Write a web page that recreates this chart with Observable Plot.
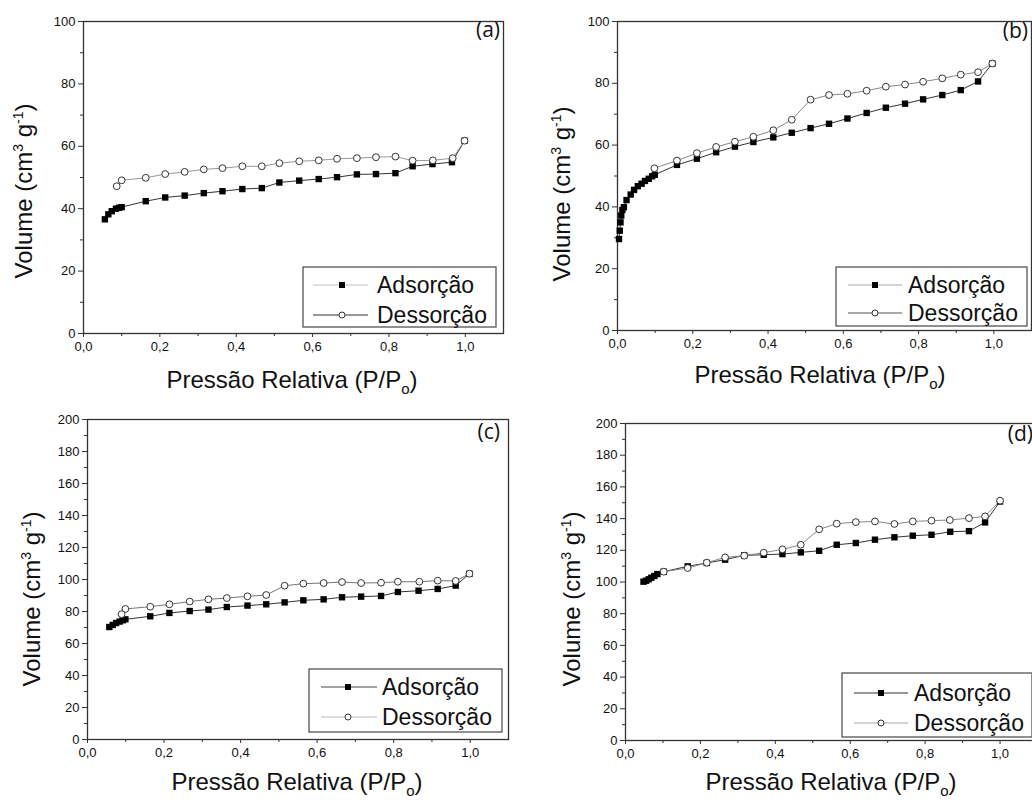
<!DOCTYPE html>
<html><head><meta charset="utf-8">
<script src="https://cdn.jsdelivr.net/npm/d3@7"></script>
<script src="https://cdn.jsdelivr.net/npm/@observablehq/plot@0.6"></script>
<style>
html,body{margin:0;padding:0;background:#fff;overflow:hidden;}
#wrap{position:relative;width:1032px;height:804px;overflow:hidden;background:#fff;}
#wrap svg{position:absolute;}
</style></head><body><div id="wrap"></div>
<script>
// ---------- data ----------
const seriesNames = ["Adsorção", "Dessorção"];
const panelLabels = ["(a)", "(b)", "(c)", "(d)"];
const xTitleMain = "Pressão Relativa (P/P";
const xTitleSub = "o";
const xMajor = [0, 0.2, 0.4, 0.6, 0.8, 1.0];
const xMajorLabels = ["0,0", "0,2", "0,4", "0,6", "0,8", "1,0"];
const xMinor = [0.1, 0.3, 0.5, 0.7, 0.9];
const yMajor100 = [0, 20, 40, 60, 80, 100];
const yMinor100 = [10, 30, 50, 70, 90];
const yMajor200 = [0, 20, 40, 60, 80, 100, 120, 140, 160, 180, 200];
const yMinor200 = [10, 30, 50, 70, 90, 110, 130, 150, 170, 190];

const aAdsX = [0.056,0.065,0.074,0.085,0.093,0.100,0.163,0.214,0.265,0.315,0.364,0.416,0.467,0.513,0.565,0.616,0.664,0.716,0.766,0.817,0.862,0.914,0.965,0.998];
const aAdsY = [36.6,38.2,39.2,40.0,40.3,40.5,42.4,43.6,44.2,45.0,45.6,46.3,46.6,48.4,49.0,49.5,50.1,51.0,51.1,51.4,53.6,54.3,54.9,61.8];
const aDesX = [0.998,0.967,0.915,0.862,0.817,0.766,0.716,0.664,0.616,0.565,0.513,0.467,0.416,0.364,0.315,0.265,0.214,0.163,0.100,0.087];
const aDesY = [61.8,56.2,55.5,55.4,56.7,56.5,56.2,56.0,55.5,55.2,54.6,53.6,53.6,53.0,52.6,51.8,51.1,49.9,49.1,47.2];

const bAdsX = [0.004,0.006,0.008,0.010,0.013,0.017,0.024,0.035,0.044,0.054,0.064,0.073,0.083,0.092,0.099,0.158,0.211,0.262,0.312,0.361,0.414,0.463,0.513,0.562,0.611,0.662,0.713,0.764,0.812,0.863,0.912,0.958,0.996];
const bAdsY = [29.6,32.3,35.0,37.2,39.0,39.9,42.2,44.0,45.5,46.7,47.5,48.4,49.1,49.9,50.4,53.6,55.6,57.7,59.5,61.0,62.5,64.0,65.5,66.9,68.6,70.4,72.1,73.4,74.8,76.2,77.8,80.6,86.4];
const bDesX = [0.996,0.958,0.912,0.863,0.812,0.764,0.713,0.662,0.611,0.562,0.513,0.463,0.414,0.361,0.312,0.262,0.211,0.158,0.098];
const bDesY = [86.4,83.6,82.8,81.6,80.5,79.6,78.9,77.6,76.6,76.2,74.7,68.2,64.8,62.7,61.1,59.4,57.4,55.0,52.5];

const cAdsX = [0.057,0.066,0.075,0.084,0.092,0.099,0.164,0.214,0.267,0.316,0.364,0.418,0.467,0.515,0.564,0.617,0.665,0.715,0.767,0.811,0.865,0.915,0.962,0.998];
const cAdsY = [70.3,71.6,72.8,73.7,74.5,75.1,77.0,79.1,80.3,81.2,82.8,83.7,84.5,85.7,87.0,87.6,88.9,89.3,89.7,92.2,93.0,94.1,96.2,103.6];
const cDesX = [0.998,0.962,0.915,0.867,0.811,0.767,0.715,0.665,0.617,0.564,0.515,0.467,0.418,0.364,0.316,0.267,0.214,0.164,0.099,0.089];
const cDesY = [103.6,99.1,99.3,98.6,98.6,98.0,97.8,98.4,97.8,97.4,96.1,90.3,89.5,88.4,87.6,86.2,84.5,83.0,81.6,78.3];

const dAdsX = [0.048,0.055,0.062,0.069,0.077,0.085,0.102,0.166,0.217,0.266,0.317,0.369,0.419,0.468,0.517,0.564,0.615,0.666,0.718,0.767,0.817,0.867,0.917,0.960,1.0];
const dAdsY = [100.2,100.8,101.7,102.7,103.8,105.0,106.5,109.9,112.0,114.1,116.8,117.2,117.6,118.7,119.7,123.5,124.6,126.7,128.2,129.2,129.8,131.7,132.1,137.6,150.8];
const dDesX = [1.0,0.960,0.917,0.866,0.817,0.767,0.718,0.666,0.615,0.564,0.517,0.468,0.419,0.369,0.317,0.266,0.217,0.166,0.102];
const dDesY = [151.3,141.4,140.3,139.1,138.7,138.2,136.6,138.2,137.8,136.8,133.2,123.5,120.6,118.5,116.6,115.5,112.2,108.8,106.5];

// ---------- layout ----------
const FONT = '"Liberation Sans", Arial, Helvetica, sans-serif';
const panels = [
  {adsX:aAdsX, adsY:aAdsY, desX:aDesX, desY:aDesY, yMax:100, yMajor:yMajor100, yMinor:yMinor100,
   left:0, top:0, w:516, h:400, ml:83, mr:13, mt:21, mb:67,
   adsLine:"#333", desLine:"#999", legAds:"#c4c4c4", legDes:"#333",
   ytx:32, yty:191, xtx:292, xty:388, lbx:500, lby:37,
   leg:{x0:303, x1:496, y0:267, y1:327, l0:313, l1:368, m:342, tx:377, rows:[285,315]}},
  {adsX:bAdsX, adsY:bAdsY, desX:bDesX, desY:bDesY, yMax:100, yMajor:yMajor100, yMinor:yMinor100,
   left:520, top:0, w:512, h:400, ml:97, mr:1, mt:21, mb:70,
   adsLine:"#333", desLine:"#888", legAds:"#aaa", legDes:"#555",
   ytx:50, yty:194, xtx:300, xty:383, lbx:508, lby:38,
   leg:{x0:316, x1:507, y0:267, y1:326, l0:328, l1:382, m:355, tx:388, rows:[285,313]}},
  {adsX:cAdsX, adsY:cAdsY, desX:cDesX, desY:cDesY, yMax:200, yMajor:yMajor200, yMinor:yMinor200,
   left:0, top:400, w:516, h:404, ml:87, mr:8, mt:19, mb:65,
   adsLine:"#333", desLine:"#777", legAds:"#444", legDes:"#bbb",
   ytx:40, yty:199, xtx:297, xty:390, lbx:500, lby:39,
   leg:{x0:309, x1:502, y0:269, y1:332, l0:321, l1:377, m:348, tx:382, rows:[287,317]}},
  {adsX:dAdsX, adsY:dAdsY, desX:dDesX, desY:dDesY, yMax:200, yMajor:yMajor200, yMinor:yMinor200,
   left:520, top:400, w:517, h:404, ml:105, mr:0, mt:23, mb:64,
   adsLine:"#333", desLine:"#888", legAds:"#333", legDes:"#aaa",
   ytx:60, yty:199, xtx:311, xty:390, lbx:513, lby:41,
   leg:{x0:322, x1:512, y0:273, y1:337, l0:334, l1:388, m:361, tx:394, rows:[293,323]}}
];

const wrap = document.getElementById("wrap");

panels.forEach((cfg, k) => {
  const ads = cfg.adsX.map((x, i) => ({x, y: cfg.adsY[i]}));
  const des = cfg.desX.map((x, i) => ({x, y: cfg.desY[i]}));
  const svg = Plot.plot({
    width: cfg.w, height: cfg.h,
    marginLeft: cfg.ml, marginRight: cfg.mr, marginTop: cfg.mt, marginBottom: cfg.mb,
    x: {domain: [0, 1.1]},
    y: {domain: [0, cfg.yMax]},
    style: {fontFamily: FONT, fontSize: "13px", color: "#111", background: "#fff", overflow: "visible"},
    marks: [
      Plot.axisX(xMajor, {tickSize: 4, tickPadding: 4, tickFormat: d => xMajorLabels[xMajor.indexOf(d)], label: null, stroke: "#333"}),
      Plot.axisX(xMinor, {tickSize: 3, tickFormat: () => "", label: null, stroke: "#333"}),
      Plot.axisY(cfg.yMajor, {tickSize: 5, tickPadding: 3, label: null, stroke: "#333"}),
      Plot.axisY(cfg.yMinor, {tickSize: 3, tickFormat: () => "", label: null, stroke: "#333"}),
      Plot.frame({stroke: "#333", strokeWidth: 1.3}),
      Plot.line(ads, {x: "x", y: "y", stroke: cfg.adsLine, strokeWidth: 1}),
      Plot.line(des, {x: "x", y: "y", stroke: cfg.desLine, strokeWidth: 1}),
      Plot.dot(ads, {x: "x", y: "y", symbol: "square", r: 3.6, fill: "#000", stroke: "none"}),
      Plot.dot(des, {x: "x", y: "y", symbol: "circle", r: 3.4, fill: "#fff", stroke: "#333", strokeWidth: 1})
    ]
  });
  svg.style.left = cfg.left + "px";
  svg.style.top = cfg.top + "px";
  wrap.appendChild(svg);

  const s = d3.select(svg);
  // y title
  const yt = s.append("text")
    .attr("transform", `translate(${cfg.ytx},${cfg.yty}) rotate(-90)`)
    .attr("text-anchor", "middle")
    .style("font-family", FONT).style("font-size", "24px").attr("fill", "#111");
  yt.append("tspan").text("Volume (cm");
  yt.append("tspan").attr("dy", -9).style("font-size", "14px").text("3");
  yt.append("tspan").attr("dy", 9).text(" g");
  yt.append("tspan").attr("dy", -9).style("font-size", "14px").text("-1");
  yt.append("tspan").attr("dy", 9).text(")");
  // x title
  const xt = s.append("text")
    .attr("x", cfg.xtx).attr("y", cfg.xty)
    .attr("text-anchor", "middle")
    .style("font-family", FONT).style("font-size", "24px").attr("fill", "#111");
  xt.append("tspan").text(xTitleMain);
  xt.append("tspan").attr("dy", 6).style("font-size", "15px").text(xTitleSub);
  xt.append("tspan").attr("dy", -6).text(")");
  // panel label
  s.append("text").attr("x", cfg.lbx).attr("y", cfg.lby)
    .attr("text-anchor", "end")
    .style("font-family", '"Open Sans", "Noto Sans", sans-serif').style("font-size", "21px").attr("fill", "#111")
    .text(panelLabels[k]);
  // legend
  const L = cfg.leg;
  const g = s.append("g").attr("text-anchor", "start");
  g.append("rect").attr("x", L.x0).attr("y", L.y0).attr("width", L.x1 - L.x0).attr("height", L.y1 - L.y0)
    .attr("fill", "#fff").attr("stroke", "#555").attr("stroke-width", 1.3);
  [0, 1].forEach(i => {
    const yy = L.rows[i];
    g.append("line").attr("x1", L.l0).attr("x2", L.l1).attr("y1", yy).attr("y2", yy)
      .attr("stroke", i === 0 ? cfg.legAds : cfg.legDes).attr("stroke-width", 1.2);
    if (i === 0) {
      g.append("rect").attr("x", L.m - 3).attr("y", yy - 3).attr("width", 6).attr("height", 6).attr("fill", "#000");
    } else {
      g.append("circle").attr("cx", L.m).attr("cy", yy).attr("r", 3).attr("fill", "#fff").attr("stroke", "#333");
    }
    g.append("text").attr("x", L.tx).attr("y", yy + 8)
      .attr("text-anchor", "start")
      .style("font-family", FONT).style("font-size", "23px").attr("fill", "#111")
      .text(seriesNames[i]);
  });
});
</script>
</body></html>
